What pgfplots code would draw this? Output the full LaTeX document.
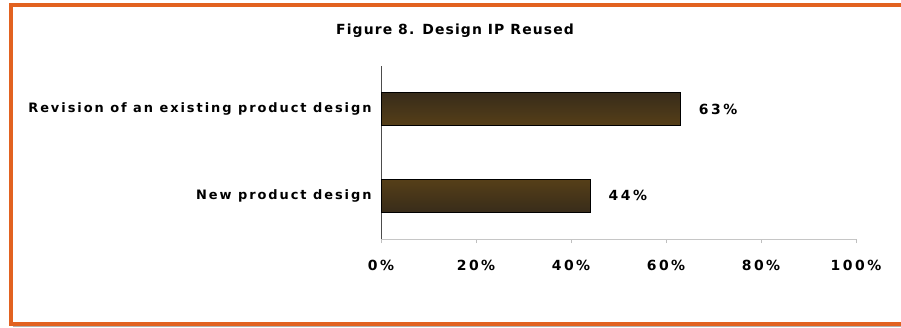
\documentclass[border=0pt]{standalone}
\usepackage{fontspec}
\setmainfont{DejaVu Sans}
\newfontfamily\titlefont[LetterSpace=8]{DejaVu Sans}
\newfontfamily\labfont[LetterSpace=15]{DejaVu Sans}
\newfontfamily\numfont[LetterSpace=18]{DejaVu Sans}
\usepackage{pgfplots}
\pgfplotsset{compat=1.18}
\definecolor{frameorange}{RGB}{226,98,32}
\definecolor{barouter}{RGB}{56,44,26}
\definecolor{barinner}{RGB}{110,78,22}
\begin{document}
\begin{tikzpicture}
\path[use as bounding box] (0bp,0bp) rectangle (901bp,-328bp);
% frame
\draw[frameorange,line width=4bp] (901bp,-4.5bp) -- (10.5bp,-4.5bp) -- (10.5bp,-323.5bp) -- (901bp,-323.5bp);
\draw[gray!60,line width=1.5bp] (12.5bp,-326.5bp) -- (901bp,-326.5bp);
% title
\node[font=\titlefont\bfseries\fontsize{14}{16}\selectfont] at (455bp,-31bp) {Figure 8. Design IP Reused};
\begin{axis}[
  at={(381bp,-239bp)}, anchor=south west,
  scale only axis, width=475bp, height=173bp,
  xbar, bar width=33bp,
  xmin=0, xmax=100, ymin=-0.5, ymax=1.5,
  axis x line*=bottom, axis y line*=left,
  x axis line style={gray!45, line width=1pt},
  y axis line style={black!70, line width=0.6pt},
  xtick={0,20,40,60,80,100},
  xticklabels={0\%,20\%,40\%,60\%,80\%,100\%},
  x tick style={gray!50, line width=0.6pt},
  major tick length=4bp,
  ytick={0,1},
  yticklabels={New product design,Revision of an existing product design},
  y tick style={draw=none},
  extra y ticks={-0.5,0.5,1.5},
  extra y tick labels={},
  extra y tick style={y tick style={black!70, line width=0.6pt}},
  tick align=outside,
  xticklabel style={font=\numfont\bfseries\fontsize{14}{16}\selectfont, yshift=-14bp},
  yticklabel style={font=\labfont\bfseries\fontsize{13}{15}\selectfont, xshift=-2bp},
  /pgf/number format/assume math mode=true,
  nodes near coords={\pgfmathprintnumber{\pgfplotspointmeta}\%},
  nodes near coords style={font=\numfont\bfseries\fontsize{14}{16}\selectfont, anchor=west, xshift=15bp, text=black},
  point meta=x,
]
\addplot[draw=black, line width=0.8pt, top color=barouter, bottom color=barouter, middle color=barinner]
  coordinates {(44,0) (63,1)};
\end{axis}
\end{tikzpicture}
\end{document}
